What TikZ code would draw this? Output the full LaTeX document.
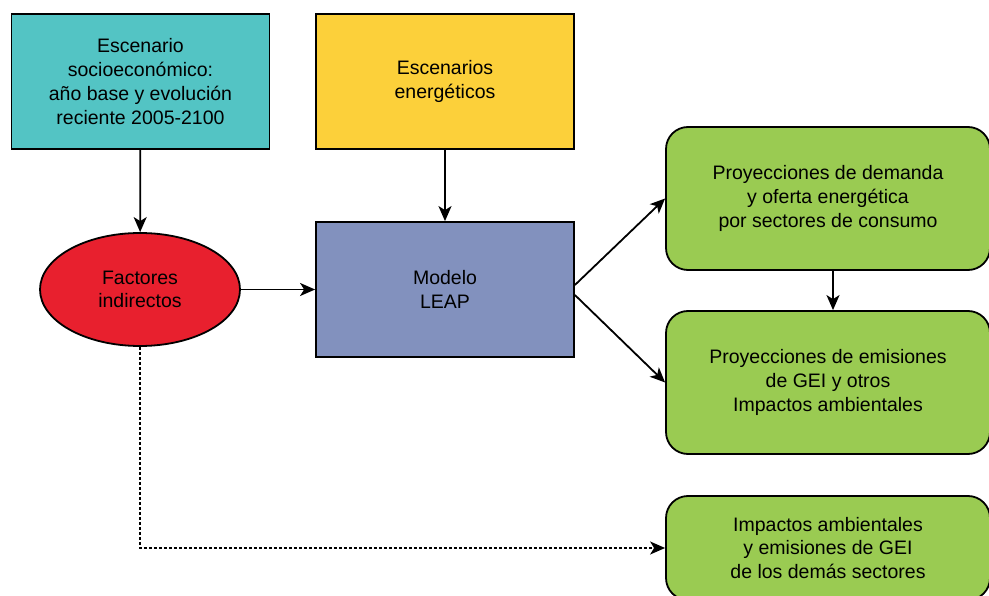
\documentclass[tikz,border=0pt]{standalone}
\usepackage{fontspec}
\setmainfont{Liberation Sans}
\usetikzlibrary{shapes.geometric,arrows.meta}

\definecolor{teal1}{RGB}{83,196,196}
\definecolor{yellow1}{RGB}{252,208,58}
\definecolor{red1}{RGB}{232,32,46}
\definecolor{leapblue}{RGB}{130,145,190}
\definecolor{green1}{RGB}{154,203,82}

\begin{document}
\begin{tikzpicture}[x=1pt,y=-1pt,>={Stealth[length=15pt,width=13pt,inset=4pt]},
    every node/.style={font=\fontsize{19.5}{23.7}\selectfont, align=center, inner sep=0pt},
    box/.style={draw, line width=1.8pt, minimum width=258pt, minimum height=135pt},
    resbox/.style={draw, line width=1.8pt, rounded corners=22pt, fill=green1, minimum width=324pt},
    conn/.style={->, line width=1.8pt}]

    \useasboundingbox (0,0) rectangle (989,596);

    % entradas
    \node[box, fill=teal1] (socio) at (140.5,81.5) {Escenario\\socioeconómico:\\año base y evolución\\reciente 2005-2100};
    \node[box, fill=yellow1] (energ) at (445,81.5) {Escenarios\\energéticos};

    % factores y modelo
    \node[ellipse, draw, line width=1.8pt, fill=red1, minimum width=200pt, minimum height=113pt] (fact) at (140,289.5) {Factores\\indirectos};
    \node[box, fill=leapblue] (leap) at (445,289.5) {Modelo\\LEAP};

    % resultados
    \node[resbox, minimum height=143pt] (dem) at (828,198.5) {Proyecciones de demanda\\y oferta energética\\por sectores de consumo};
    \node[resbox, minimum height=143pt] (emi) at (828,382.5) {Proyecciones de emisiones\\de GEI y otros\\Impactos ambientales};
    \node[resbox, minimum height=104pt] (otros) at (828,548) {Impactos ambientales\\y emisiones de GEI\\de los demás sectores};

    \draw[conn] (socio) -- (fact);
    \draw[conn] (energ) -- (leap);
    \draw[conn] (fact) -- (leap);
    \draw[conn] ([yshift=4.5pt]leap.east) -- (dem.west);
    \draw[conn] ([yshift=-5.5pt]leap.east) -- (emi.west);
    \draw[conn] ([xshift=5pt]dem.south) -- ([xshift=5pt]emi.north);
    \draw[conn, dash pattern=on 3pt off 2pt] (fact.south) |- (otros.west);

\end{tikzpicture}
\end{document}
